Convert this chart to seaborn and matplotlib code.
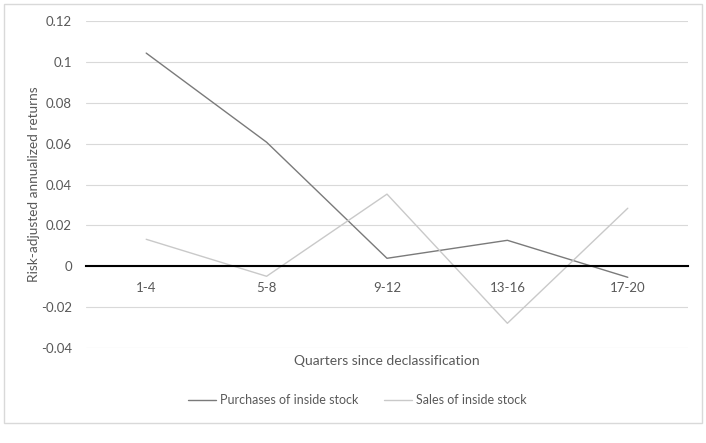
import pandas as pd
import matplotlib.pyplot as plt
import seaborn as sns
from matplotlib.patches import Rectangle

quarters = ['1-4', '5-8', '9-12', '13-16', '17-20']
purchases = [0.1043, 0.0607, 0.0039, 0.0127, -0.0054]
sales = [0.0132, -0.0049, 0.0353, -0.0279, 0.0284]
series_names = ['Purchases of inside stock', 'Sales of inside stock']
y_ticks = [-0.04, -0.02, 0, 0.02, 0.04, 0.06, 0.08, 0.1, 0.12]
y_tick_labels = ['-0.04', '-0.02', '0', '0.02', '0.04', '0.06', '0.08', '0.1', '0.12']

df = pd.DataFrame({
    'Quarter': quarters * 2,
    'Return': purchases + sales,
    'Series': [series_names[0]] * len(quarters) + [series_names[1]] * len(quarters),
})

sns.set_style('white')
plt.rcParams['font.family'] = ['Lato', 'DejaVu Sans']

fig = plt.figure(figsize=(7.06, 4.43), dpi=100)
ax = fig.add_axes([0.1218, 0.2144, 0.8527, 0.7382])

sns.lineplot(
    data=df,
    x='Quarter',
    y='Return',
    hue='Series',
    palette=['#7a7a7a', '#c9c9c9'],
    linewidth=1.0,
    sort=False,
    ax=ax,
)

ax.set_xlim(-0.5, 4.5)
ax.set_ylim(-0.04, 0.12)
ax.set_yticks(y_ticks)
ax.set_yticklabels(y_tick_labels)
ax.yaxis.grid(True, color='#d9d9d9', linewidth=0.8)
ax.set_axisbelow(True)

for side in ['top', 'right', 'left']:
    ax.spines[side].set_visible(False)
ax.spines['bottom'].set_position(('data', 0))
ax.spines['bottom'].set_color('black')
ax.spines['bottom'].set_linewidth(1.5)
ax.spines['bottom'].set_zorder(3)

ax.tick_params(axis='both', length=0, labelsize=9.5, labelcolor='#595959')
ax.tick_params(axis='x', pad=11)
ax.tick_params(axis='y', pad=10)

ax.set_xlabel('Quarters since declassification', fontsize=10, color='#595959')
ax.xaxis.set_label_coords(0.5, -0.02)
ax.set_ylabel('Risk-adjusted annualized returns', fontsize=9.8, color='#595959')
ax.yaxis.set_label_coords(-0.077, 0.5)

handles, labels = ax.get_legend_handles_labels()
ax.legend(
    handles, labels,
    loc='center', bbox_to_anchor=(0.506, 0.097), bbox_transform=fig.transFigure,
    ncol=2, frameon=False, fontsize=9, labelcolor='#595959',
    handlelength=2.2, columnspacing=2.1, handletextpad=0.32,
)

fig.patches.append(Rectangle((0.006, 0.045), 0.988, 0.945, transform=fig.transFigure,
                             fill=False, edgecolor='#d9d9d9', linewidth=1.0))

fig.savefig('out.png', dpi=100)
